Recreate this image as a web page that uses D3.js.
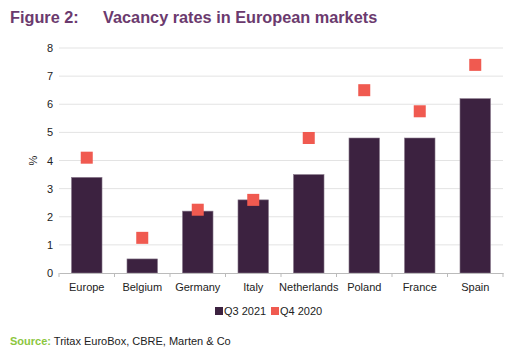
<!DOCTYPE html>
<html>
<head>
<meta charset="utf-8">
<script src="https://cdn.jsdelivr.net/npm/d3@7"></script>
<style>
  body { margin: 0; background: #fff; }
  svg { display: block; font-family: Arial, "Liberation Sans", sans-serif; }
</style>
</head>
<body>
<svg id="chart" width="517" height="362"></svg>
<script>
const categories = ['Europe', 'Belgium', 'Germany', 'Italy', 'Netherlands', 'Poland', 'France', 'Spain'];
const q3_2021 = [3.4, 0.5, 2.2, 2.6, 3.5, 4.8, 4.8, 6.2];
const q4_2020 = [4.1, 1.25, 2.25, 2.6, 4.8, 6.5, 5.75, 7.4];
const yTicks = [0, 1, 2, 3, 4, 5, 6, 7, 8];

const config = {
  'bar': '#3c2240',
  'marker': '#f05a50',
  'title': '#6b3a6e',
  'grid': '#e3e3e3',
  'source': '#8cc63f'
};

const svg = d3.select('#chart');
const margin = { left: 59, right: 14, top: 48, bottom: 89 };
const width = 517, height = 362;

const x = d3.scaleBand()
  .domain(categories)
  .range([margin.left, width - margin.right])
  .paddingInner(0.45)
  .paddingOuter(0.225);

const xOuter = d3.scaleBand()
  .domain(categories)
  .range([margin.left, width - margin.right]);

const y = d3.scaleLinear()
  .domain([0, 8])
  .range([height - margin.bottom, margin.top]);

// title
const title = svg.append('text')
  .attr('x', 10).attr('y', 23)
  .attr('fill', config['title'])
  .style('font-size', '16.3px')
  .style('font-weight', 'bold');
title.append('tspan').text('Figure 2:');
title.append('tspan').attr('x', 103).text('Vacancy rates in European markets');

// gridlines
svg.append('g')
  .selectAll('line')
  .data(yTicks.filter(d => d > 0))
  .enter()
  .append('line')
  .attr('x1', margin.left).attr('x2', width - margin.right)
  .attr('y1', d => y(d)).attr('y2', d => y(d))
  .attr('stroke', config['grid'])
  .attr('stroke-width', 1);

// y axis labels
const yAxis = svg.append('g')
  .attr('transform', `translate(${margin.left - 6},0)`)
  .call(d3.axisLeft(y).tickValues(yTicks).tickSize(0).tickPadding(0).tickFormat(d3.format('d')));
yAxis.select('.domain').remove();
yAxis.selectAll('text')
  .style('font-size', '11px')
  .style('font-family', 'Arial, "Liberation Sans", sans-serif')
  .attr('fill', '#222');

svg.append('text')
  .attr('transform', `translate(33,${y(4)}) rotate(-90)`)
  .attr('text-anchor', 'middle')
  .attr('dy', '0.35em')
  .style('font-size', '11px')
  .attr('fill', '#222')
  .text('%');

// bars
svg.append('g')
  .selectAll('rect')
  .data(categories)
  .enter()
  .append('rect')
  .attr('x', d => x(d))
  .attr('width', x.bandwidth())
  .attr('y', (d, i) => y(q3_2021[i]))
  .attr('height', (d, i) => y(0) - y(q3_2021[i]))
  .attr('fill', config['bar'])
  .attr('stroke', '#8a7a8c')
  .attr('stroke-width', 0.6);

// x axis
const xAxis = svg.append('g')
  .attr('transform', `translate(0,${y(0)})`)
  .call(d3.axisBottom(xOuter).tickSize(0).tickPadding(10));
xAxis.select('.domain').attr('stroke', '#bbb');
xAxis.selectAll('text')
  .style('font-size', '11px')
  .style('font-family', 'Arial, "Liberation Sans", sans-serif')
  .attr('fill', '#222');
svg.append('g')
  .selectAll('line')
  .data(categories.concat(['end']))
  .enter()
  .append('line')
  .attr('x1', (d, i) => i < categories.length ? xOuter(d) : xOuter.range()[1])
  .attr('x2', (d, i) => i < categories.length ? xOuter(d) : xOuter.range()[1])
  .attr('y1', y(0)).attr('y2', y(0) + 4)
  .attr('stroke', '#bbb');

// markers
const sq = 12;
svg.append('g')
  .selectAll('rect')
  .data(categories)
  .enter()
  .append('rect')
  .attr('x', d => x(d) + x.bandwidth() / 2 - sq / 2)
  .attr('y', (d, i) => y(q4_2020[i]) - sq / 2)
  .attr('width', sq).attr('height', sq)
  .attr('fill', config['marker']);

// legend
const legend = svg.append('g').attr('transform', 'translate(215,311)');
legend.append('rect').attr('x', 0).attr('y', -4).attr('width', 8).attr('height', 8).attr('fill', config['bar']);
legend.append('text').attr('x', 9).attr('dy', '0.35em').style('font-size', '11px').attr('fill', '#222').text('Q3 2021');
legend.append('rect').attr('x', 56).attr('y', -4).attr('width', 8).attr('height', 8).attr('fill', config['marker']);
legend.append('text').attr('x', 65).attr('dy', '0.35em').style('font-size', '11px').attr('fill', '#222').text('Q4 2020');

// source
const src = svg.append('text').attr('x', 10).attr('y', 345).style('font-size', '11px');
src.append('tspan').attr('fill', config['source']).style('font-weight', 'bold').text('Source:');
src.append('tspan').attr('fill', '#222').text(' Tritax EuroBox, CBRE, Marten & Co');
</script>
</body>
</html>
